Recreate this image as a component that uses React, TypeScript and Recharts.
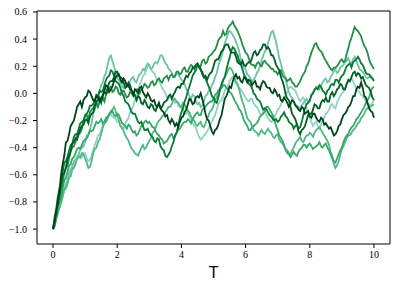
import React from "react";
import { LineChart, Line, XAxis, YAxis, ReferenceArea } from "recharts";

const T = [
  0, 0.05, 0.1, 0.15, 0.2, 0.25, 0.3, 0.35, 0.4, 0.45, 0.5, 0.55, 0.6, 0.65, 0.7, 0.75, 0.8, 0.85, 0.9, 0.95,
  1, 1.05, 1.1, 1.15, 1.2, 1.25, 1.3, 1.35, 1.4, 1.45, 1.5, 1.55, 1.6, 1.65, 1.7, 1.75, 1.8, 1.85, 1.9, 1.95,
  2, 2.05, 2.1, 2.15, 2.2, 2.25, 2.3, 2.35, 2.4, 2.45, 2.5, 2.55, 2.6, 2.65, 2.7, 2.75, 2.8, 2.85, 2.9, 2.95,
  3, 3.05, 3.1, 3.15, 3.2, 3.25, 3.3, 3.35, 3.4, 3.45, 3.5, 3.55, 3.6, 3.65, 3.7, 3.75, 3.8, 3.85, 3.9, 3.95,
  4, 4.05, 4.1, 4.15, 4.2, 4.25, 4.3, 4.35, 4.4, 4.45, 4.5, 4.55, 4.6, 4.65, 4.7, 4.75, 4.8, 4.85, 4.9, 4.95,
  5, 5.05, 5.1, 5.15, 5.2, 5.25, 5.3, 5.35, 5.4, 5.45, 5.5, 5.55, 5.6, 5.65, 5.7, 5.75, 5.8, 5.85, 5.9, 5.95,
  6, 6.05, 6.1, 6.15, 6.2, 6.25, 6.3, 6.35, 6.4, 6.45, 6.5, 6.55, 6.6, 6.65, 6.7, 6.75, 6.8, 6.85, 6.9, 6.95,
  7, 7.05, 7.1, 7.15, 7.2, 7.25, 7.3, 7.35, 7.4, 7.45, 7.5, 7.55, 7.6, 7.65, 7.7, 7.75, 7.8, 7.85, 7.9, 7.95,
  8, 8.05, 8.1, 8.15, 8.2, 8.25, 8.3, 8.35, 8.4, 8.45, 8.5, 8.55, 8.6, 8.65, 8.7, 8.75, 8.8, 8.85, 8.9, 8.95,
  9, 9.05, 9.1, 9.15, 9.2, 9.25, 9.3, 9.35, 9.4, 9.45, 9.5, 9.55, 9.6, 9.65, 9.7, 9.75, 9.8, 9.85, 9.9, 9.95,
  10,
];

const s1 = [
  -1.0, -0.95, -0.86, -0.81, -0.72, -0.6, -0.52, -0.46, -0.36, -0.35, -0.3, -0.24, -0.22, -0.2, -0.15, -0.1, -0.08, -0.06, -0.1, -0.05,
  -0.03, -0.02, 0.02, 0.01, -0.02, -0.05, -0.06, -0.02, -0.03, -0.06, -0.04, -0.01, 0.02, 0.06, 0.05, 0.01, 0.03, 0.05, 0.09, 0.12,
  0.13, 0.14, 0.1, 0.08, 0.11, 0.09, 0.06, 0.06, 0.03, 0.02, -0.01, 0.03, 0.02, 0.0, 0.04, 0.05, 0.01, -0.01, -0.03, 0.0,
  -0.02, -0.05, -0.06, -0.05, -0.09, -0.1, -0.07, -0.11, -0.13, -0.14, -0.17, -0.16, -0.2, -0.22, -0.19, -0.21, -0.24, -0.22, -0.25, -0.21,
  -0.18, -0.17, -0.14, -0.12, -0.08, -0.04, -0.05, -0.08, -0.07, -0.03, -0.02, -0.03, 0.0, -0.04, -0.09, -0.15, -0.19, -0.2, -0.24, -0.28,
  -0.3, -0.27, -0.26, -0.23, -0.19, -0.16, -0.1, -0.04, -0.02, 0.01, 0.05, 0.04, 0.09, 0.12, 0.14, 0.11, 0.12, 0.09, 0.08, 0.12,
  0.11, 0.08, 0.1, 0.09, 0.06, 0.08, 0.09, 0.05, 0.05, 0.03, 0.07, 0.09, 0.08, 0.05, 0.04, 0.04, 0.01, 0.0, 0.03, 0.01,
  -0.02, -0.01, -0.05, -0.06, -0.03, -0.05, -0.07, -0.1, -0.08, -0.05, -0.06, -0.09, -0.1, -0.12, -0.13, -0.1, -0.11, -0.15, -0.14, -0.13,
  -0.17, -0.18, -0.15, -0.15, -0.18, -0.2, -0.21, -0.18, -0.19, -0.23, -0.22, -0.24, -0.26, -0.25, -0.28, -0.31, -0.3, -0.28, -0.24, -0.23,
  -0.19, -0.16, -0.15, -0.13, -0.1, -0.09, -0.06, -0.02, -0.02, 0.03, 0.05, 0.04, 0.08, 0.04, -0.02, -0.03, -0.07, -0.11, -0.13, -0.14,
  -0.18,
];

const s2 = [
  -1.0, -0.93, -0.88, -0.79, -0.74, -0.66, -0.6, -0.59, -0.55, -0.48, -0.46, -0.43, -0.37, -0.36, -0.33, -0.34, -0.3, -0.26, -0.24, -0.23,
  -0.2, -0.19, -0.22, -0.17, -0.15, -0.14, -0.1, -0.06, -0.05, -0.03, -0.07, -0.02, 0.01, 0.0, 0.04, 0.08, 0.09, 0.09, 0.12, 0.16,
  0.16, 0.13, 0.12, 0.11, 0.08, 0.04, 0.05, 0.08, 0.06, 0.02, 0.0, -0.01, -0.05, -0.02, -0.03, -0.07, -0.08, -0.05, -0.07, -0.1,
  -0.11, -0.08, -0.09, -0.12, -0.13, -0.09, -0.08, -0.11, -0.1, -0.07, -0.06, -0.05, -0.02, -0.01, -0.04, -0.01, 0.01, 0.04, 0.05, 0.04,
  0.07, 0.07, 0.1, 0.13, 0.12, 0.15, 0.16, 0.19, 0.19, 0.21, 0.22, 0.2, 0.17, 0.16, 0.12, 0.13, 0.1, 0.13, 0.15, 0.16,
  0.2, 0.24, 0.25, 0.25, 0.28, 0.31, 0.32, 0.35, 0.36, 0.36, 0.33, 0.3, 0.3, 0.3, 0.27, 0.23, 0.22, 0.21, 0.24, 0.21,
  0.2, 0.22, 0.23, 0.23, 0.26, 0.3, 0.31, 0.28, 0.29, 0.32, 0.33, 0.36, 0.36, 0.33, 0.34, 0.32, 0.28, 0.28, 0.25, 0.21,
  0.19, 0.17, 0.12, 0.09, 0.05, -0.01, -0.04, -0.05, -0.1, -0.15, -0.17, -0.19, -0.23, -0.28, -0.3, -0.27, -0.26, -0.24, -0.2, -0.16,
  -0.15, -0.15, -0.12, -0.08, -0.09, -0.11, -0.11, -0.07, -0.05, -0.06, -0.03, -0.06, -0.06, -0.01, 0.01, -0.02, 0.0, 0.03, 0.04, 0.07,
  0.06, 0.03, 0.03, 0.07, 0.1, 0.09, 0.12, 0.15, 0.16, 0.13, 0.15, 0.14, 0.11, 0.12, 0.09, 0.06, 0.05, 0.04, 0.01, -0.03,
  -0.05,
];

const s3 = [
  -1.0, -0.94, -0.9, -0.83, -0.78, -0.71, -0.66, -0.58, -0.55, -0.53, -0.48, -0.42, -0.4, -0.39, -0.36, -0.31, -0.3, -0.29, -0.26, -0.2,
  -0.17, -0.16, -0.19, -0.14, -0.12, -0.11, -0.08, -0.07, -0.1, -0.06, -0.04, -0.03, -0.06, -0.01, 0.01, 0.04, 0.05, 0.01, 0.02, 0.05,
  0.04, 0.0, -0.01, 0.02, 0.02, -0.01, -0.03, -0.02, 0.01, 0.0, -0.02, 0.02, 0.03, 0.03, 0.0, 0.03, 0.04, 0.07, 0.06, 0.04,
  0.05, 0.08, 0.09, 0.06, 0.07, 0.1, 0.11, 0.09, 0.08, 0.11, 0.12, 0.13, 0.1, 0.13, 0.14, 0.12, 0.13, 0.16, 0.16, 0.14,
  0.15, 0.18, 0.19, 0.16, 0.16, 0.19, 0.21, 0.2, 0.18, 0.21, 0.22, 0.19, 0.2, 0.24, 0.25, 0.22, 0.23, 0.27, 0.28, 0.29,
  0.31, 0.32, 0.35, 0.39, 0.41, 0.42, 0.46, 0.43, 0.44, 0.48, 0.5, 0.51, 0.53, 0.5, 0.48, 0.46, 0.43, 0.4, 0.36, 0.33,
  0.3, 0.29, 0.26, 0.22, 0.21, 0.21, 0.19, 0.22, 0.23, 0.21, 0.2, 0.23, 0.24, 0.22, 0.21, 0.2, 0.18, 0.18, 0.16, 0.16,
  0.14, 0.16, 0.17, 0.13, 0.12, 0.11, 0.09, 0.1, 0.11, 0.08, 0.07, 0.05, 0.05, 0.07, 0.09, 0.12, 0.14, 0.16, 0.2, 0.22,
  0.26, 0.3, 0.33, 0.36, 0.37, 0.34, 0.32, 0.31, 0.29, 0.26, 0.24, 0.22, 0.2, 0.18, 0.17, 0.19, 0.19, 0.2, 0.22, 0.24,
  0.25, 0.23, 0.24, 0.29, 0.33, 0.38, 0.41, 0.45, 0.49, 0.47, 0.46, 0.44, 0.42, 0.38, 0.35, 0.33, 0.3, 0.25, 0.22, 0.2,
  0.18,
];

const s4 = [
  -1.0, -0.91, -0.85, -0.76, -0.7, -0.66, -0.58, -0.51, -0.5, -0.47, -0.42, -0.38, -0.37, -0.32, -0.3, -0.3, -0.26, -0.22, -0.21, -0.2,
  -0.16, -0.15, -0.13, -0.09, -0.09, -0.08, -0.05, -0.01, -0.02, 0.02, 0.01, 0.02, 0.06, 0.1, 0.12, 0.13, 0.17, 0.16, 0.13, 0.09,
  0.08, 0.07, 0.04, 0.0, -0.02, -0.06, -0.07, -0.08, -0.11, -0.14, -0.15, -0.15, -0.18, -0.21, -0.22, -0.21, -0.24, -0.27, -0.27, -0.26,
  -0.29, -0.31, -0.32, -0.35, -0.36, -0.33, -0.34, -0.39, -0.41, -0.42, -0.46, -0.47, -0.45, -0.43, -0.39, -0.36, -0.31, -0.29, -0.24, -0.18,
  -0.14, -0.11, -0.06, -0.03, 0.02, 0.05, 0.09, 0.13, 0.15, 0.17, 0.21, 0.2, 0.18, 0.14, 0.12, 0.11, 0.08, 0.05, 0.02, -0.02,
  -0.03, -0.06, -0.07, -0.03, 0.02, 0.07, 0.1, 0.12, 0.17, 0.22, 0.26, 0.31, 0.34, 0.33, 0.3, 0.28, 0.24, 0.22, 0.18, 0.14,
  0.12, 0.1, 0.07, 0.06, 0.04, 0.0, -0.01, -0.04, -0.05, -0.06, -0.09, -0.12, -0.11, -0.12, -0.14, -0.16, -0.17, -0.19, -0.2, -0.19,
  -0.21, -0.2, -0.17, -0.16, -0.14, -0.17, -0.18, -0.21, -0.22, -0.23, -0.26, -0.24, -0.23, -0.26, -0.25, -0.21, -0.16, -0.11, -0.08, -0.07,
  -0.05, -0.01, 0.0, 0.03, 0.04, 0.03, 0.06, 0.05, 0.02, 0.01, -0.01, 0.02, 0.03, 0.06, 0.07, 0.06, 0.1, 0.1, 0.08, 0.11,
  0.13, 0.14, 0.17, 0.2, 0.21, 0.22, 0.19, 0.23, 0.24, 0.25, 0.27, 0.25, 0.22, 0.21, 0.18, 0.15, 0.14, 0.14, 0.12, 0.11,
  0.09,
];

const s5 = [
  -1.0, -0.97, -0.91, -0.84, -0.8, -0.77, -0.7, -0.64, -0.62, -0.58, -0.53, -0.52, -0.48, -0.47, -0.44, -0.41, -0.4, -0.41, -0.38, -0.35,
  -0.34, -0.33, -0.31, -0.27, -0.28, -0.27, -0.24, -0.21, -0.22, -0.21, -0.19, -0.22, -0.21, -0.18, -0.17, -0.15, -0.14, -0.13, -0.16, -0.17,
  -0.15, -0.16, -0.19, -0.22, -0.23, -0.24, -0.26, -0.23, -0.24, -0.27, -0.29, -0.28, -0.31, -0.3, -0.27, -0.24, -0.23, -0.21, -0.2, -0.22,
  -0.21, -0.23, -0.25, -0.25, -0.28, -0.3, -0.31, -0.33, -0.34, -0.37, -0.36, -0.35, -0.33, -0.31, -0.3, -0.33, -0.32, -0.29, -0.27, -0.26,
  -0.24, -0.22, -0.21, -0.21, -0.19, -0.2, -0.22, -0.19, -0.17, -0.15, -0.14, -0.16, -0.16, -0.12, -0.11, -0.1, -0.08, -0.07, -0.06, -0.06,
  -0.04, -0.01, 0.0, 0.02, 0.03, 0.04, 0.06, 0.06, 0.04, 0.03, 0.01, 0.0, -0.02, -0.05, -0.07, -0.09, -0.12, -0.13, -0.16, -0.2,
  -0.22, -0.24, -0.27, -0.27, -0.25, -0.24, -0.23, -0.22, -0.2, -0.17, -0.16, -0.15, -0.13, -0.1, -0.1, -0.12, -0.14, -0.16, -0.2, -0.24,
  -0.27, -0.31, -0.33, -0.35, -0.38, -0.42, -0.44, -0.45, -0.47, -0.45, -0.43, -0.45, -0.46, -0.43, -0.41, -0.4, -0.38, -0.38, -0.4, -0.38,
  -0.37, -0.39, -0.41, -0.4, -0.39, -0.38, -0.36, -0.39, -0.4, -0.38, -0.37, -0.4, -0.42, -0.45, -0.48, -0.5, -0.51, -0.48, -0.45, -0.42,
  -0.4, -0.36, -0.33, -0.31, -0.3, -0.27, -0.25, -0.24, -0.22, -0.19, -0.18, -0.16, -0.14, -0.12, -0.1, -0.07, -0.05, -0.03, 0.01, 0.04,
  0.05,
];

const s6 = [
  -1.0, -0.98, -0.93, -0.87, -0.84, -0.81, -0.76, -0.71, -0.7, -0.67, -0.62, -0.61, -0.56, -0.55, -0.52, -0.48, -0.47, -0.47, -0.44, -0.45,
  -0.48, -0.51, -0.55, -0.54, -0.5, -0.44, -0.41, -0.4, -0.36, -0.34, -0.3, -0.25, -0.22, -0.21, -0.18, -0.16, -0.13, -0.12, -0.1, -0.13,
  -0.17, -0.2, -0.24, -0.25, -0.28, -0.31, -0.33, -0.35, -0.38, -0.41, -0.42, -0.44, -0.45, -0.46, -0.43, -0.4, -0.38, -0.41, -0.4, -0.37,
  -0.35, -0.33, -0.29, -0.28, -0.25, -0.22, -0.2, -0.19, -0.17, -0.16, -0.14, -0.12, -0.1, -0.1, -0.08, -0.05, -0.04, -0.06, -0.07, -0.09,
  -0.1, -0.07, -0.08, -0.11, -0.13, -0.14, -0.17, -0.19, -0.2, -0.23, -0.24, -0.22, -0.21, -0.24, -0.25, -0.22, -0.19, -0.16, -0.13, -0.12,
  -0.09, -0.05, -0.03, 0.01, 0.04, 0.05, 0.09, 0.12, 0.14, 0.17, 0.19, 0.18, 0.16, 0.12, 0.09, 0.07, 0.03, -0.02, -0.06, -0.09,
  -0.14, -0.18, -0.2, -0.21, -0.24, -0.27, -0.28, -0.29, -0.31, -0.29, -0.27, -0.29, -0.3, -0.28, -0.26, -0.28, -0.29, -0.32, -0.33, -0.31,
  -0.3, -0.34, -0.36, -0.37, -0.39, -0.41, -0.42, -0.44, -0.45, -0.42, -0.4, -0.37, -0.35, -0.34, -0.32, -0.35, -0.36, -0.33, -0.31, -0.31,
  -0.29, -0.3, -0.32, -0.29, -0.27, -0.26, -0.25, -0.27, -0.29, -0.31, -0.33, -0.35, -0.38, -0.43, -0.46, -0.52, -0.55, -0.53, -0.5, -0.45,
  -0.41, -0.39, -0.36, -0.33, -0.31, -0.31, -0.29, -0.27, -0.26, -0.24, -0.22, -0.21, -0.18, -0.17, -0.15, -0.12, -0.11, -0.1, -0.09, -0.09,
  -0.08,
];

const s7 = [
  -1.0, -0.95, -0.92, -0.89, -0.84, -0.79, -0.76, -0.71, -0.68, -0.65, -0.6, -0.56, -0.55, -0.5, -0.49, -0.48, -0.45, -0.41, -0.4, -0.39,
  -0.36, -0.31, -0.3, -0.27, -0.22, -0.15, -0.12, -0.09, -0.03, 0.02, 0.06, 0.08, 0.13, 0.15, 0.21, 0.26, 0.28, 0.24, 0.2, 0.16,
  0.11, 0.1, 0.08, 0.05, 0.04, 0.07, 0.06, 0.05, 0.09, 0.11, 0.12, 0.09, 0.08, 0.12, 0.14, 0.15, 0.18, 0.17, 0.2, 0.22,
  0.21, 0.18, 0.19, 0.22, 0.23, 0.22, 0.25, 0.28, 0.28, 0.25, 0.22, 0.21, 0.18, 0.17, 0.15, 0.12, 0.12, 0.15, 0.14, 0.12,
  0.1, 0.09, 0.07, 0.03, 0.02, -0.02, -0.04, -0.01, -0.02, -0.06, -0.08, -0.07, -0.1, -0.09, -0.06, -0.02, -0.01, 0.02, 0.03, 0.06,
  0.08, 0.12, 0.15, 0.2, 0.24, 0.27, 0.32, 0.37, 0.4, 0.44, 0.46, 0.45, 0.43, 0.41, 0.38, 0.35, 0.31, 0.25, 0.22, 0.19,
  0.18, 0.14, 0.13, 0.11, 0.09, 0.1, 0.12, 0.15, 0.17, 0.2, 0.24, 0.28, 0.31, 0.33, 0.37, 0.41, 0.45, 0.46, 0.42, 0.38,
  0.32, 0.26, 0.22, 0.17, 0.14, 0.1, 0.05, 0.01, -0.02, -0.03, -0.06, -0.08, -0.09, -0.1, -0.12, -0.09, -0.07, -0.06, -0.04, -0.06,
  -0.06, -0.02, 0.01, 0.02, 0.05, 0.05, 0.03, 0.06, 0.08, 0.1, 0.11, 0.08, 0.09, 0.12, 0.14, 0.16, 0.18, 0.15, 0.16, 0.19,
  0.2, 0.21, 0.23, 0.24, 0.26, 0.23, 0.22, 0.25, 0.27, 0.24, 0.21, 0.18, 0.17, 0.16, 0.14, 0.12, 0.11, 0.12, 0.13, 0.11,
  0.1,
];

const s8 = [
  -1.0, -0.97, -0.92, -0.86, -0.82, -0.79, -0.73, -0.7, -0.66, -0.61, -0.58, -0.56, -0.52, -0.52, -0.49, -0.46, -0.45, -0.48, -0.47, -0.44,
  -0.44, -0.48, -0.5, -0.49, -0.46, -0.42, -0.38, -0.35, -0.31, -0.3, -0.27, -0.23, -0.22, -0.21, -0.19, -0.16, -0.15, -0.17, -0.18, -0.19,
  -0.21, -0.21, -0.24, -0.26, -0.26, -0.22, -0.2, -0.18, -0.14, -0.12, -0.09, -0.05, -0.02, 0.03, 0.06, 0.09, 0.13, 0.14, 0.17, 0.2,
  0.2, 0.18, 0.16, 0.15, 0.12, 0.1, 0.09, 0.07, 0.04, 0.02, 0.0, -0.03, -0.04, -0.01, -0.02, -0.05, -0.07, -0.06, -0.09, -0.1,
  -0.11, -0.12, -0.15, -0.15, -0.13, -0.17, -0.19, -0.22, -0.24, -0.25, -0.29, -0.32, -0.34, -0.33, -0.31, -0.3, -0.28, -0.26, -0.23, -0.21,
  -0.18, -0.16, -0.12, -0.08, -0.06, -0.05, -0.02, 0.02, 0.04, 0.05, 0.09, 0.11, 0.12, 0.09, 0.07, 0.06, 0.04, 0.03, 0.01, -0.01,
  -0.03, -0.05, -0.06, -0.04, -0.04, -0.07, -0.09, -0.1, -0.12, -0.15, -0.16, -0.14, -0.13, -0.16, -0.18, -0.2, -0.21, -0.2, -0.17, -0.15,
  -0.12, -0.11, -0.08, -0.05, -0.04, -0.02, 0.01, 0.04, 0.05, 0.04, 0.03, 0.02, -0.01, -0.04, -0.06, -0.04, -0.03, -0.06, -0.11, -0.15,
  -0.18, -0.21, -0.24, -0.22, -0.21, -0.24, -0.26, -0.23, -0.2, -0.18, -0.15, -0.14, -0.12, -0.09, -0.08, -0.1, -0.11, -0.07, -0.04, -0.02,
  0.0, 0.01, 0.04, 0.07, 0.08, 0.1, 0.11, 0.09, 0.06, 0.04, 0.02, 0.01, -0.01, -0.02, -0.04, -0.06, -0.08, -0.08, -0.1, -0.07,
  -0.05,
];

const seriesKeys = ["s8", "s7", "s6", "s5", "s3", "s4", "s2", "s1"];
const seriesValues: Record<string, number[]> = { s1, s2, s3, s4, s5, s6, s7, s8 };
const seriesColors: Record<string, string> = {
  s8: "#8fd4c2",
  s7: "#6cc4a7",
  s6: "#50b885",
  s5: "#39a66a",
  s3: "#258d47",
  s4: "#087a36",
  s2: "#005e27",
  s1: "#00441b",
};

const xTicks = [0, 2, 4, 6, 8, 10];
const yTicks = [-1.0, -0.8, -0.6, -0.4, -0.2, 0.0, 0.2, 0.4, 0.6];

const data = T.map((t, i) => {
  const row: Record<string, number> = { t };
  for (const k of seriesKeys) row[k] = seriesValues[k][i];
  return row;
});

const X_DOMAIN: [number, number] = [-0.5, 10.5];
const Y_DOMAIN: [number, number] = [-1.11, 0.607];

const tickStyle = { fontFamily: "Liberation Serif", fontSize: 10, fill: "#000" };

export default function App() {
  return (
    <div style={{ position: "absolute", left: 0, top: 0, background: "#fff" }}>
      <LineChart
        width={398}
        height={287}
        data={data}
        margin={{ top: 11, right: 8, bottom: 0, left: 0 }}
      >
        <XAxis
          dataKey="t"
          type="number"
          domain={X_DOMAIN}
          ticks={xTicks}
          allowDataOverflow
          axisLine={false}
          tickLine={{ stroke: "#000" }}
          tickSize={4}
          tickMargin={3}
          height={43}
          tick={tickStyle}
          tickFormatter={(v: number) => String(v)}
          label={{
            value: "T",
            position: "insideBottom",
            offset: 9,
            style: { fontFamily: "DejaVu Sans", fontSize: 15, fill: "#000" },
          }}
        />
        <YAxis
          type="number"
          domain={Y_DOMAIN}
          ticks={yTicks}
          allowDataOverflow
          axisLine={false}
          tickLine={{ stroke: "#000" }}
          tickSize={4}
          tickMargin={6}
          width={37}
          tick={tickStyle}
          tickFormatter={(v: number) => v.toFixed(1).replace("-", "\u2212")}
        />
        {seriesKeys.map((k) => (
          <Line
            key={k}
            type="linear"
            dataKey={k}
            stroke={seriesColors[k]}
            strokeWidth={1.8}
            dot={false}
            isAnimationActive={false}
          />
        ))}
        <ReferenceArea
          x1={X_DOMAIN[0]}
          x2={X_DOMAIN[1]}
          y1={Y_DOMAIN[0]}
          y2={Y_DOMAIN[1]}
          fill="none"
          stroke="#000"
          strokeWidth={1}
          ifOverflow="visible"
        />
      </LineChart>
    </div>
  );
}
